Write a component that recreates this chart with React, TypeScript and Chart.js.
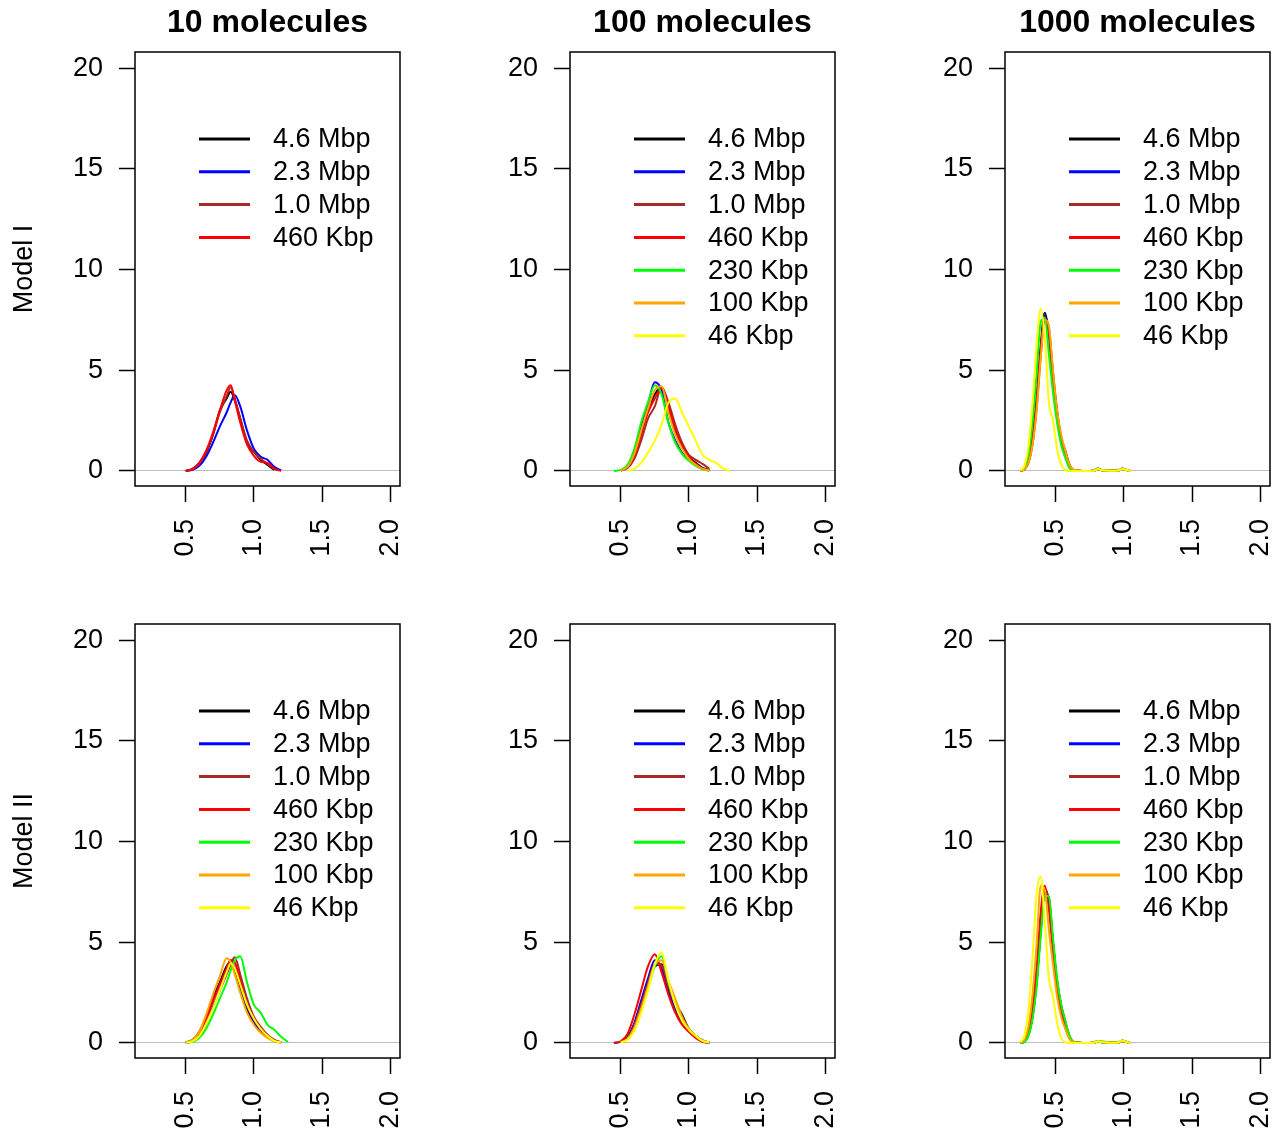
import React, { useEffect, useRef } from "react";
import { Chart, registerables } from "chart.js";
Chart.register(...registerables);

const COLUMN_TITLES = ["10 molecules", "100 molecules", "1000 molecules"];
const ROW_TITLES = ["Model I", "Model II"];
const SERIES_LABELS = ["4.6 Mbp", "2.3 Mbp", "1.0 Mbp", "460 Kbp", "230 Kbp", "100 Kbp", "46 Kbp"];
const SERIES_COLORS = ["#000000", "#0000FF", "#A52A2A", "#FF0000", "#00FF00", "#FFA500", "#FFFF00"];
const X_TICKS = [0.5, 1.0, 1.5, 2.0];
const Y_TICKS = [0, 5, 10, 15, 20];
const X_RANGE = [0.128, 2.072];
const Y_RANGE = [-0.75, 20.8];

// density evaluation grids (x values)
const GRID_10 = [0.5, 0.55, 0.6, 0.65, 0.7, 0.75, 0.8, 0.83, 0.86, 0.9, 0.95, 1.0, 1.05, 1.1, 1.15, 1.2, 1.25];
const GRID_100 = [0.45, 0.5, 0.55, 0.6, 0.65, 0.7, 0.75, 0.8, 0.85, 0.9, 0.95, 1.0, 1.05, 1.1, 1.15, 1.2, 1.25, 1.3];
const GRID_1000 = [0.24, 0.27, 0.3, 0.33, 0.36, 0.39, 0.42, 0.45, 0.48, 0.51, 0.54, 0.57, 0.6, 0.63, 0.7, 0.78, 0.81, 0.84, 0.9, 0.96, 0.99, 1.02, 1.05];

// Model I, 10 molecules (4 series)
const M1_10 = [
  [0, 0.1, 0.4, 0.9, 1.8, 3.0, 3.6, 3.93, 3.5, 2.6, 1.4, 0.95, 0.55, 0.3, 0.05, null, null],
  [0, 0.05, 0.25, 0.7, 1.4, 2.2, 2.9, 3.4, 3.75, 3.2, 2.0, 1.1, 0.7, 0.55, 0.2, 0.02, null],
  [0, 0.1, 0.4, 0.95, 1.8, 2.9, 3.7, 4.15, 3.6, 2.6, 1.5, 0.95, 0.6, 0.35, 0.1, null, null],
  [0, 0.08, 0.4, 1.0, 1.9, 3.0, 4.0, 4.25, 3.5, 2.4, 1.3, 0.75, 0.45, 0.4, 0.1, 0, null],
];
// Model I, 100 molecules
const M1_100 = [
  [null, 0.02, 0.2, 0.8, 1.9, 3.0, 3.8, 4.15, 3.1, 2.0, 1.2, 0.7, 0.4, 0.15, 0.03, null, null, null],
  [null, 0.03, 0.25, 0.95, 2.2, 3.3, 4.4, 4.0, 2.4, 1.5, 0.9, 0.55, 0.3, 0.1, 0.02, null, null, null],
  [null, 0.02, 0.15, 0.6, 1.5, 2.6, 3.2, 4.15, 3.4, 2.3, 1.4, 0.8, 0.55, 0.35, 0.1, null, null, null],
  [null, 0.02, 0.2, 0.75, 1.8, 2.9, 3.6, 4.1, 3.2, 2.1, 1.25, 0.7, 0.35, 0.12, 0.03, null, null, null],
  [0.0, 0.05, 0.3, 1.1, 2.4, 3.4, 4.25, 3.8, 2.4, 1.4, 0.85, 0.5, 0.25, 0.08, 0.02, null, null, null],
  [null, 0.02, 0.2, 0.85, 2.0, 3.1, 4.0, 4.2, 2.9, 1.8, 1.1, 0.6, 0.3, 0.1, 0.02, null, null, null],
  [null, null, 0.0, 0.1, 0.4, 0.9, 1.5, 2.3, 3.4, 3.6, 2.9, 2.2, 1.5, 0.8, 0.55, 0.4, 0.12, 0.0],
];
// Model I, 1000 molecules
const M1_1000 = [
  [0, 0.1, 0.5, 1.6, 3.6, 6.2, 7.85, 6.8, 4.5, 2.8, 1.6, 1.0, 0.3, 0.05, 0, 0.01, 0.12, 0.03, 0.01, 0.02, 0.12, 0.04, 0],
  [0, 0.1, 0.45, 1.5, 3.4, 6.0, 7.7, 6.8, 4.6, 2.8, 1.6, 0.9, 0.3, 0.05, 0, 0.01, 0.1, 0.03, 0.01, 0.02, 0.1, 0.04, 0],
  [0, 0.08, 0.4, 1.3, 3.1, 5.7, 7.5, 7.1, 4.9, 3.0, 1.7, 1.0, 0.35, 0.05, 0, 0.01, 0.1, 0.03, 0.01, 0.02, 0.1, 0.04, 0],
  [0, 0.1, 0.5, 1.5, 3.4, 6.0, 7.55, 6.9, 4.7, 2.9, 1.6, 0.9, 0.3, 0.05, 0, 0.01, 0.1, 0.03, 0.01, 0.02, 0.1, 0.04, 0],
  [0, 0.15, 0.8, 2.4, 4.8, 7.4, 7.6, 5.8, 3.9, 2.4, 1.3, 0.65, 0.15, 0.02, 0, 0.01, 0.1, 0.03, 0.01, 0.02, 0.1, 0.04, 0],
  [0, 0.08, 0.4, 1.3, 3.0, 5.6, 7.5, 7.2, 5.0, 3.0, 1.8, 1.0, 0.35, 0.06, 0, 0.01, 0.1, 0.03, 0.01, 0.02, 0.1, 0.04, 0],
  [0.02, 0.25, 1.2, 3.4, 6.3, 8.05, 6.6, 3.4, 2.5, 1.1, 0.3, 0.05, 0, 0, 0, 0.01, 0.1, 0.03, 0.01, 0.02, 0.1, 0.04, 0],
];
// Model II, 10 molecules
const M2_10 = [
  [0.02, 0.15, 0.55, 1.3, 2.3, 3.0, 3.8, 4.0, 3.6, 2.6, 1.6, 1.0, 0.55, 0.3, 0.1, 0.02, null],
  [0.02, 0.1, 0.45, 1.2, 2.1, 2.9, 3.7, 4.1, 3.7, 2.9, 1.8, 1.1, 0.6, 0.3, 0.1, 0.02, null],
  [0.01, 0.08, 0.35, 0.95, 1.8, 2.6, 3.4, 3.9, 4.25, 3.4, 2.2, 1.3, 0.8, 0.4, 0.15, 0.03, null],
  [0.02, 0.12, 0.5, 1.2, 2.1, 2.9, 3.7, 4.1, 4.0, 3.1, 1.9, 1.2, 0.7, 0.35, 0.1, 0.02, null],
  [0, 0.05, 0.25, 0.7, 1.4, 2.2, 3.0, 3.6, 4.1, 4.3, 3.0, 1.9, 1.5, 0.9, 0.65, 0.3, 0.05],
  [0.02, 0.15, 0.55, 1.4, 2.4, 3.3, 4.2, 4.0, 3.4, 2.5, 1.5, 0.9, 0.5, 0.25, 0.08, 0.02, null],
  [0.01, 0.08, 0.35, 0.95, 1.7, 2.6, 3.5, 3.95, 3.7, 2.9, 1.9, 1.2, 0.7, 0.35, 0.1, 0.02, null],
];
// Model II, 100 molecules
const M2_100 = [
  [null, 0.04, 0.25, 0.85, 1.8, 2.9, 3.8, 3.9, 2.9, 2.0, 1.4, 0.7, 0.35, 0.12, 0.02, null, null, null],
  [0.0, 0.05, 0.3, 1.0, 2.1, 3.2, 4.1, 3.7, 2.6, 1.7, 1.0, 0.6, 0.3, 0.08, 0.0, null, null, null],
  [null, 0.04, 0.25, 0.9, 1.9, 3.0, 3.9, 3.85, 2.8, 1.9, 1.2, 0.65, 0.3, 0.1, 0.02, null, null, null],
  [0.0, 0.08, 0.45, 1.4, 2.6, 3.8, 4.4, 3.5, 2.4, 1.5, 0.9, 0.55, 0.25, 0.06, 0.0, null, null, null],
  [null, 0.03, 0.2, 0.7, 1.6, 2.7, 3.8, 4.3, 3.0, 2.0, 1.2, 0.7, 0.35, 0.1, 0.02, null, null, null],
  [null, 0.03, 0.2, 0.75, 1.7, 2.8, 3.9, 4.1, 3.1, 2.2, 1.3, 0.7, 0.35, 0.1, 0.02, null, null, null],
  [null, 0.02, 0.15, 0.6, 1.5, 2.6, 3.9, 4.5, 3.1, 1.9, 1.1, 0.65, 0.35, 0.1, 0.02, null, null, null],
];
// Model II, 1000 molecules
const M2_1000 = [
  [0, 0.08, 0.45, 1.4, 3.2, 5.8, 7.65, 7.0, 4.8, 2.9, 1.7, 1.0, 0.3, 0.05, 0, 0.01, 0.1, 0.03, 0.01, 0.02, 0.12, 0.04, 0],
  [0, 0.06, 0.4, 1.3, 3.0, 5.5, 7.4, 7.2, 5.0, 3.0, 1.8, 1.0, 0.35, 0.05, 0, 0.01, 0.1, 0.03, 0.01, 0.02, 0.1, 0.04, 0],
  [0, 0.06, 0.4, 1.3, 3.0, 5.6, 7.5, 7.1, 5.0, 3.1, 1.9, 1.1, 0.35, 0.05, 0, 0.01, 0.1, 0.03, 0.01, 0.02, 0.1, 0.04, 0],
  [0, 0.1, 0.55, 1.7, 3.8, 6.5, 7.8, 6.6, 4.5, 2.7, 1.5, 0.8, 0.25, 0.04, 0, 0.01, 0.1, 0.03, 0.01, 0.02, 0.1, 0.04, 0],
  [0, 0.05, 0.35, 1.2, 2.8, 5.3, 7.3, 7.3, 5.2, 3.2, 1.9, 1.1, 0.4, 0.06, 0, 0.01, 0.05, 0.08, 0.02, 0.02, 0.1, 0.04, 0],
  [0.01, 0.15, 0.8, 2.4, 4.9, 7.8, 7.6, 5.6, 3.9, 2.3, 1.3, 0.7, 0.2, 0.03, 0, 0.02, 0.1, 0.03, 0.01, 0.02, 0.1, 0.04, 0],
  [0.03, 0.35, 1.6, 4.2, 7.4, 8.25, 6.0, 3.2, 2.3, 1.0, 0.25, 0.04, 0, 0, 0, 0.01, 0.08, 0.03, 0.01, 0.02, 0.12, 0.04, 0],
];

const PANELS = [
  [
    { grid: GRID_10, series: M1_10 },
    { grid: GRID_100, series: M1_100 },
    { grid: GRID_1000, series: M1_1000 },
  ],
  [
    { grid: GRID_10, series: M2_10 },
    { grid: GRID_100, series: M2_100 },
    { grid: GRID_1000, series: M2_1000 },
  ],
];

const FONT = "'Liberation Sans', Arial, Helvetica, sans-serif";
const COL_W = 435;
const ROW_H = 572;
const PAGE_W = 1283;
const PAGE_H = 1133;
const BOX_LEFT = 135;
const BOX_RIGHT = 400;
const BOX_TOP = 52;
const BOX_BOTTOM = 486;

function zeroPadding(s: any) {
  s.paddingLeft = 0;
  s.paddingRight = 0;
  s.paddingTop = 0;
  s.paddingBottom = 0;
}

function PanelChart({ row, col }: { row: number; col: number }) {
  const ref = useRef<HTMLCanvasElement | null>(null);
  const W = Math.min(COL_W, PAGE_W - col * COL_W);
  const H = Math.min(ROW_H, PAGE_H - row * ROW_H);

  useEffect(() => {
    if (!ref.current) return;
    const panel = PANELS[row][col];
    const decor = {
      id: "decor",
      afterDraw(chart: any) {
        const { ctx, chartArea } = chart;
        ctx.save();
        ctx.strokeStyle = "#000";
        ctx.lineWidth = 1.5;
        ctx.strokeRect(chartArea.left, chartArea.top, chartArea.right - chartArea.left, chartArea.bottom - chartArea.top);
        // legend
        ctx.font = `27px ${FONT}`;
        ctx.textBaseline = "middle";
        ctx.textAlign = "left";
        panel.series.forEach((_s, i) => {
          const y = 139 + i * 32.8;
          ctx.strokeStyle = SERIES_COLORS[i];
          ctx.lineWidth = 3;
          ctx.beginPath();
          ctx.moveTo(199, y);
          ctx.lineTo(250, y);
          ctx.stroke();
          ctx.fillStyle = "#000";
          ctx.fillText(SERIES_LABELS[i], 273, y + 1);
        });
        if (row === 0) {
          ctx.font = `bold 32px ${FONT}`;
          ctx.textAlign = "center";
          ctx.textBaseline = "alphabetic";
          ctx.fillStyle = "#000";
          ctx.fillText(COLUMN_TITLES[col], (BOX_LEFT + BOX_RIGHT) / 2, 31.5);
        }
        if (col === 0) {
          ctx.font = `27px ${FONT}`;
          ctx.textAlign = "center";
          ctx.textBaseline = "alphabetic";
          ctx.fillStyle = "#000";
          ctx.translate(31.5, (BOX_TOP + BOX_BOTTOM) / 2);
          ctx.rotate(-Math.PI / 2);
          ctx.fillText(ROW_TITLES[row], 0, 0);
        }
        ctx.restore();
      },
    };

    const chart = new Chart(ref.current, {
      type: "line",
      data: {
        datasets: panel.series.map((vals, i) => ({
          label: SERIES_LABELS[i],
          data: panel.grid.map((x, j) => ({ x, y: vals[j] })),
          borderColor: SERIES_COLORS[i],
          backgroundColor: SERIES_COLORS[i],
          borderWidth: 2,
          pointRadius: 0,
          fill: false,
          cubicInterpolationMode: "monotone",
          spanGaps: false,
          order: 10 - i,
        })),
      },
      options: {
        responsive: false,
        animation: false,
        devicePixelRatio: 1,
        events: [],
        layout: { padding: { top: BOX_TOP, right: W - BOX_RIGHT, left: 0, bottom: 0 } },
        plugins: {
          legend: { display: false },
          tooltip: { enabled: false },
          title: { display: false },
        },
        scales: {
          x: {
            type: "linear",
            min: X_RANGE[0],
            max: X_RANGE[1],
            afterBuildTicks: (s: any) => {
              s.ticks = X_TICKS.map((v) => ({ value: v }));
            },
            afterFit: (s: any) => {
              s.height = H - BOX_BOTTOM;
              zeroPadding(s);
            },
            border: { display: false },
            grid: {
              drawOnChartArea: false,
              drawTicks: true,
              tickLength: 16,
              tickColor: "#000",
              tickWidth: 1.5,
            },
            ticks: {
              minRotation: 90,
              maxRotation: 90,
              autoSkip: false,
              padding: 17,
              color: "#000",
              font: { family: FONT, size: 27 },
              callback: (v: any) => Number(v).toFixed(1),
            },
          },
          y: {
            type: "linear",
            min: Y_RANGE[0],
            max: Y_RANGE[1],
            afterBuildTicks: (s: any) => {
              s.ticks = Y_TICKS.map((v) => ({ value: v }));
            },
            afterFit: (s: any) => {
              s.width = BOX_LEFT;
              zeroPadding(s);
            },
            border: { display: false },
            grid: {
              drawOnChartArea: true,
              color: (c: any) => (c.tick && c.tick.value === 0 ? "#BEBEBE" : "rgba(0,0,0,0)"),
              lineWidth: 1,
              drawTicks: true,
              tickLength: 16,
              tickColor: "#000",
              tickWidth: 1.5,
            },
            ticks: {
              autoSkip: false,
              padding: 16,
              color: "#000",
              font: { family: FONT, size: 27 },
              callback: (v: any) => String(v),
            },
          },
        },
      },
      plugins: [decor],
    } as any);
    return () => chart.destroy();
  }, [row, col, W, H]);

  return (
    <canvas
      ref={ref}
      width={W}
      height={H}
      style={{ position: "absolute", left: col * COL_W, top: row * ROW_H, width: W, height: H }}
    />
  );
}

export default function App() {
  return (
    <div
      style={{
        position: "absolute",
        left: 0,
        top: 0,
        width: PAGE_W,
        height: PAGE_H,
        overflow: "hidden",
        background: "#fff",
      }}
    >
      {[0, 1].map((r) => [0, 1, 2].map((c) => <PanelChart key={`${r}-${c}`} row={r} col={c} />))}
    </div>
  );
}
